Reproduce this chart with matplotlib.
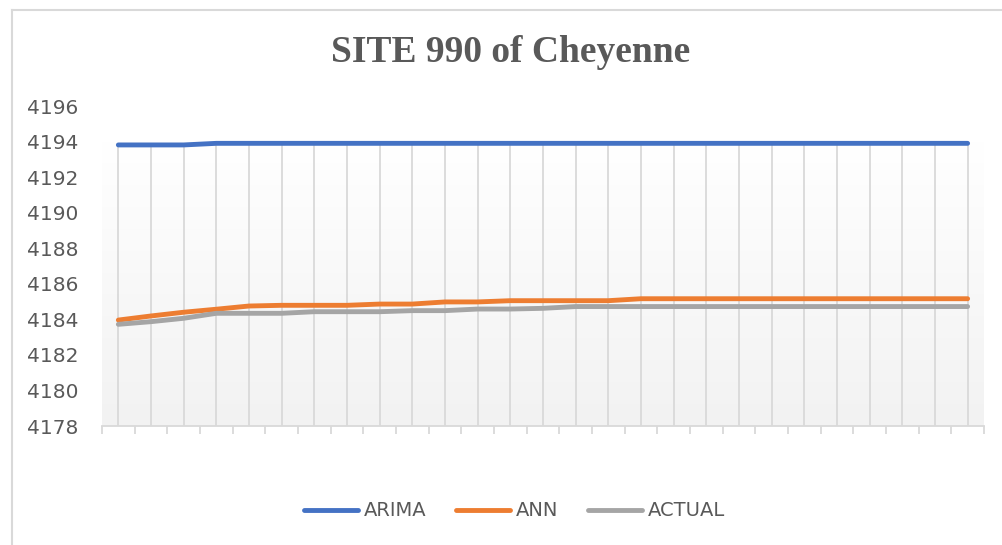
import numpy as np
import matplotlib
matplotlib.use('Agg')
import matplotlib.pyplot as plt
from matplotlib.lines import Line2D

# series (27 points)
arima = [4193.81, 4193.81, 4193.81, 4193.9, 4193.9, 4193.9, 4193.9, 4193.9, 4193.9,
         4193.9, 4193.9, 4193.9, 4193.9, 4193.9, 4193.9, 4193.9, 4193.9, 4193.9,
         4193.9, 4193.9, 4193.9, 4193.9, 4193.9, 4193.9, 4193.9, 4193.9, 4193.9]
ann = [4183.96, 4184.19, 4184.4, 4184.57, 4184.75, 4184.79, 4184.79, 4184.79, 4184.86,
       4184.86, 4184.98, 4184.98, 4185.05, 4185.05, 4185.05, 4185.05, 4185.16, 4185.16,
       4185.16, 4185.16, 4185.16, 4185.16, 4185.16, 4185.16, 4185.16, 4185.16, 4185.16]
actual = [4183.72, 4183.87, 4184.06, 4184.34, 4184.34, 4184.34, 4184.43, 4184.43, 4184.43,
          4184.49, 4184.49, 4184.58, 4184.58, 4184.62, 4184.72, 4184.72, 4184.72, 4184.72,
          4184.72, 4184.72, 4184.72, 4184.72, 4184.72, 4184.72, 4184.72, 4184.72, 4184.72]
series_names = ['ARIMA', 'ANN', 'ACTUAL']
y_ticks = [4178, 4180, 4182, 4184, 4186, 4188, 4190, 4192, 4194, 4196]

colors = ['#4472C4', '#ED7D31', '#A5A5A5']
text_color = '#595959'
grid_color = '#D9D9D9'

fig = plt.figure(figsize=(10.03, 5.45), dpi=100)
ax = fig.add_axes([0.1017, 0.2183, 0.8793, 0.5872])

x = np.arange(len(arima))
ax.set_xlim(-0.5, len(x) - 0.5)
ax.set_ylim(4178, 4196)

# plot area gradient (white at top to light gray at bottom)
grad = np.linspace(1.0, 0.0, 256).reshape(-1, 1)
ax.imshow(grad, extent=(-0.5, len(x) - 0.5, 4178, 4194), aspect='auto',
          cmap=matplotlib.colors.LinearSegmentedColormap.from_list('g', ['#F2F2F2', '#FFFFFF']),
          origin='upper', zorder=0)

# vertical gridlines at the categories
ax.vlines(x, 4178, 4193.9, color=grid_color, lw=1.3, zorder=1)

for vals, c, name in zip([arima, ann, actual], colors, series_names):
    ax.plot(x, vals, color=c, lw=3.5, solid_capstyle='round', label=name, zorder=3)

for s in ['top', 'right', 'left']:
    ax.spines[s].set_visible(False)
ax.spines['bottom'].set_color(grid_color)
ax.spines['bottom'].set_linewidth(1.3)

ax.set_xticks([])
ax.set_xticks(np.arange(-0.5, len(x)), minor=True)
ax.tick_params(axis='x', which='minor', length=6, width=1.3, color=grid_color)
ax.set_yticks(y_ticks)
ax.set_yticklabels([str(v) for v in y_ticks])
ax.tick_params(axis='y', length=0, pad=17, labelsize=14.5, labelcolor=text_color)

fig.text(0.5095, 0.903, 'SITE 990 of Cheyenne', ha='center', va='center',
         fontsize=27, fontweight='bold', family='Liberation Serif', color=text_color)

fig.legend(loc='center', bbox_to_anchor=(0.513, 0.0624), ncol=3, frameon=False,
           fontsize=14, labelcolor=text_color, handlelength=2.8, handletextpad=0.3,
           columnspacing=1.5)

# chart border (top and left visible)
fig.add_artist(Line2D([12 / 1003, 1.0], [1 - 10 / 545, 1 - 10 / 545],
                      transform=fig.transFigure, color=grid_color, lw=1.5))
fig.add_artist(Line2D([12 / 1003, 12 / 1003], [0.0, 1 - 10 / 545],
                      transform=fig.transFigure, color=grid_color, lw=1.5))

fig.savefig('out.png', dpi=100)
